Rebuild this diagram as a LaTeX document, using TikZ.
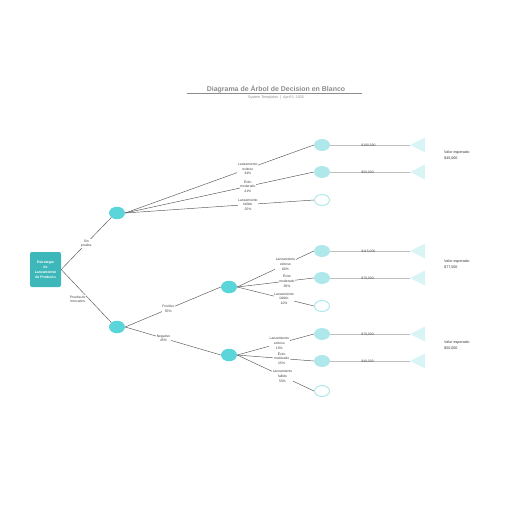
\documentclass[tikz,border=0pt]{standalone}
\usepackage{fontspec}
\setmainfont{Liberation Sans}
\usetikzlibrary{shapes.geometric,calc}

\definecolor{rootc}{HTML}{3DB7B9}
\definecolor{chancec}{HTML}{5AD5D9}
\definecolor{endc}{HTML}{AEE8EA}
\definecolor{tric}{HTML}{D9F4F4}
\definecolor{linec}{HTML}{555555}

\tikzset{
  chance/.style={ellipse, fill=chancec, minimum width=16bp, minimum height=12.5bp, inner sep=0pt},
  outcome/.style={ellipse, fill=endc, minimum width=16bp, minimum height=12bp, inner sep=0pt},
  failnode/.style={ellipse, draw=endc, line width=1bp, fill=white, minimum width=15bp, minimum height=11bp, inner sep=0pt},
  lbl/.style={fill=white, inner sep=0.6bp, align=center, font=\fontsize{3.4}{4.7}\selectfont, text=black!75},
  conn/.style={draw=linec, line width=0.45bp},
  tail/.style={draw=black!25, line width=0.8bp},
  money/.style={anchor=north west, inner sep=0pt, font=\fontsize{3.4}{4}\selectfont, text=black!70},
  expv/.style={anchor=north west, inner sep=0pt, align=left, font=\fontsize{3.7}{5.3}\selectfont, text=black!80}
}

\begin{document}
\begin{tikzpicture}[x=1bp, y=-1bp]
  \useasboundingbox (0,0) rectangle (516,516);

  % title
  \node[font=\bfseries\fontsize{7}{8}\selectfont, text=black!45] (title) at (276,89) {Diagrama de Árbol de Decision en Blanco};
  \draw[black!45, line width=0.4bp] (187,93.5) -- (362,93.5);
  \node[font=\fontsize{3.7}{4.3}\selectfont, text=black!45] (sub) at (276,98) {System Templates \ | \ April 5, 2025};

  % nodes
  \node[fill=rootc, rounded corners=2bp, minimum width=31bp, minimum height=35bp, align=center,
        text=white, font=\bfseries\fontsize{3.5}{5}\selectfont, inner sep=0pt] (root) at (45.5,269.5)
        {Estrategia\\de\\Lanzamiento\\de Producto};
  \node[chance] (up) at (117,213) {};
  \node[chance] (low) at (117,327) {};
  \node[chance] (pos) at (229,287) {};
  \node[chance] (neg) at (229,355) {};

  \node[outcome] (a1) at (322,145) {};
  \node[outcome] (a2) at (322,172) {};
  \node[failnode] (a3) at (322,200) {};
  \node[outcome] (b1) at (322,251) {};
  \node[outcome] (b2) at (322,278) {};
  \node[failnode] (b3) at (322,306) {};
  \node[outcome] (c1) at (322,334) {};
  \node[outcome] (c2) at (322,361) {};
  \node[failnode] (c3) at (322,391) {};

  % connectors
  \path[conn] (root.east) -- node[lbl, pos=0.5] {Sin\\prueba} (up.south west);
  \path[conn] (root.east) -- node[lbl, pos=0.45, shift={(-6,6)}] {Prueba de\\mercados} (low.north west);
  \path[conn] (low.east) -- node[lbl, pos=0.45] {Positivo\\55\%} (pos.west);
  \path[conn] (low.east) -- node[lbl, pos=0.4] {Negativo\\45\%} (neg.west);

  \path[conn] (up.east) -- node[lbl, pos=0.65] {Lanzamiento\\exitoso\\34\%} (a1.west);
  \path[conn] (up.east) -- node[lbl, pos=0.65] {Éxito\\moderado\\41\%} (a2.west);
  \path[conn] (up.east) -- node[lbl, pos=0.65] {Lanzamiento\\fallido\\25\%} (a3.west);

  \path[conn] (pos.east) -- node[lbl, pos=0.63] {Lanzamiento\\exitoso\\60\%} (b1.west);
  \path[conn] (pos.east) -- node[lbl, pos=0.65] {Éxito\\moderado\\30\%} (b2.west);
  \path[conn] (pos.east) -- node[lbl, pos=0.61] {Lanzamiento\\fallido\\10\%} (b3.west);

  \path[conn] (neg.east) -- node[lbl, pos=0.55] {Lanzamiento\\exitoso\\15\%} (c1.west);
  \path[conn] (neg.east) -- node[lbl, pos=0.58] {Éxito\\moderado\\25\%} (c2.west);
  \path[conn] (neg.east) -- node[lbl, pos=0.59] {Lanzamiento\\fallido\\55\%} (c3.west);

  % payoff tails
  \foreach \n/\v in {a1/\$100{,}000, a2/\$50{,}000, b1/\$115{,}000, b2/\$70{,}000, c1/\$70{,}000, c2/\$40{,}000}{
    \coordinate (\n t) at ($(\n.east)+(80,0)$);
    \path[tail] (\n.east) -- (\n t);
    \fill[tric] (\n t) -- ++(15,-7.5) -- ++(0,15) -- cycle;
    \node[money] at ($(\n.east)+(31,-1.5)$) {\v};
  }

  \node[expv] (ev1) at (444,151) {Valor esperado:\\\$45{,}000};
  \node[expv] (ev2) at (444,260) {Valor esperado:\\\$77{,}500};
  \node[expv] (ev3) at (444,341) {Valor esperado:\\\$50{,}000};
\end{tikzpicture}
\end{document}
